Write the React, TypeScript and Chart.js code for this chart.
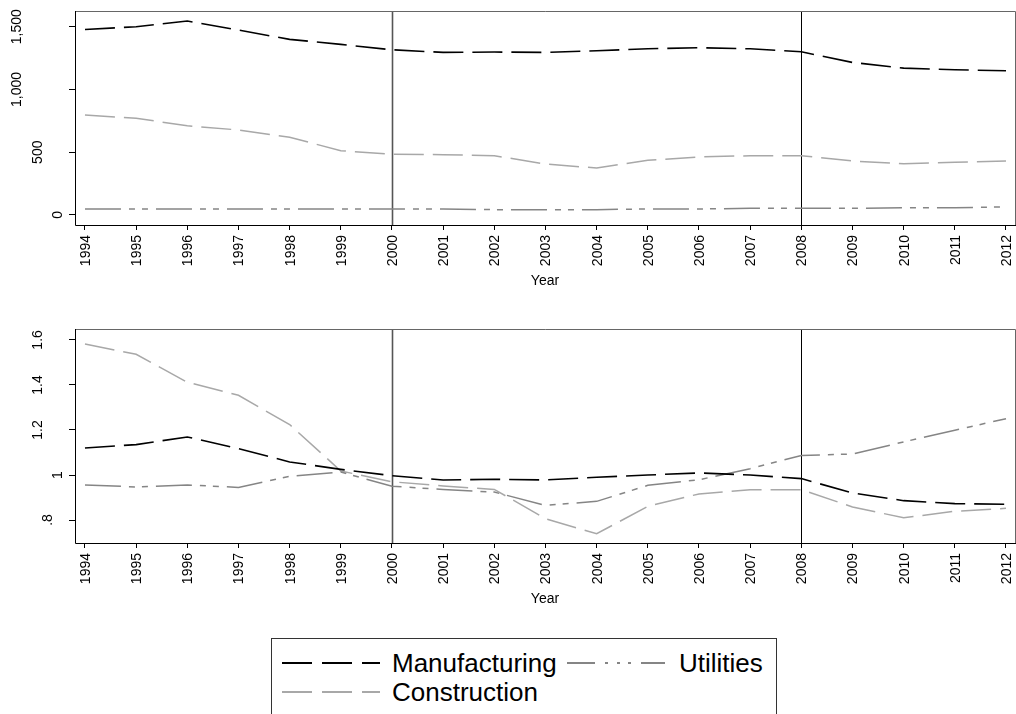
import React, { useEffect, useRef } from 'react';
import { Chart, registerables } from 'chart.js';

Chart.register(...registerables);

const FONT = '"Liberation Sans", Arial, Helvetica, sans-serif';

// ---------- data ----------
const YEARS = [1994, 1995, 1996, 1997, 1998, 1999, 2000, 2001, 2002, 2003, 2004, 2005, 2006, 2007, 2008, 2009, 2010, 2011, 2012];
const BREAK_YEARS = [2000, 2008];

// top panel: levels
const MFG_LEVEL = [1478, 1500, 1545, 1473, 1399, 1359, 1316, 1295, 1298, 1295, 1308, 1324, 1332, 1324, 1300, 1215, 1170, 1157, 1149];
const UTI_LEVEL = [48, 48, 48, 48, 48, 47, 48, 48, 42, 42, 42, 48, 48, 53, 53, 53, 58, 58, 64];
const CON_LEVEL = [796, 770, 711, 677, 619, 512, 484, 480, 472, 406, 374, 435, 462, 472, 472, 430, 408, 419, 430];
const TOP_Y_TICKS = [0, 500, 1000, 1500];
const TOP_Y_LABELS = ['0', '500', '1,000', '1,500'];

// bottom panel: relative values
const MFG_REL = [1.12, 1.135, 1.169, 1.117, 1.058, 1.025, 0.997, 0.978, 0.981, 0.978, 0.99, 1.0, 1.009, 1.0, 0.984, 0.92, 0.886, 0.873, 0.87];
const UTI_REL = [0.956, 0.947, 0.956, 0.945, 0.994, 1.013, 0.95, 0.936, 0.924, 0.865, 0.883, 0.954, 0.979, 1.028, 1.087, 1.093, 1.147, 1.199, 1.25];
const CON_REL = [1.582, 1.536, 1.412, 1.354, 1.224, 1.018, 0.97, 0.951, 0.936, 0.806, 0.739, 0.861, 0.916, 0.935, 0.935, 0.858, 0.81, 0.839, 0.852];
const BOT_Y_TICKS = [0.8, 1, 1.2, 1.4, 1.6];
const BOT_Y_LABELS = ['.8', '1', '1.2', '1.4', '1.6'];

const SERIES_NAMES = ['Manufacturing', 'Utilities', 'Construction'];
const X_TITLE = 'Year';

// ---------- styles ----------
const MFG_STYLE = { color: '#000000', dash: [30, 9], width: 1.6 };
const UTI_STYLE = { color: '#858585', dash: [36, 8, 6, 7, 6, 8], width: 1.5 };
const CON_STYLE = { color: '#a8a8a8', dash: [30, 9], width: 1.5 };

const axisTextPlugin = {
  id: 'axisText',
  beforeDatasetsDraw(chart: any) {
    const { ctx, chartArea } = chart;
    const xs = chart.scales.x;
    ctx.save();
    BREAK_YEARS.forEach((yr, i) => {
      const px = Math.round(xs.getPixelForValue(yr)) + 0.5;
      ctx.strokeStyle = i === 0 ? '#555555' : '#000000';
      ctx.lineWidth = i === 0 ? 1.6 : 1;
      ctx.beginPath();
      ctx.moveTo(px, chartArea.top);
      ctx.lineTo(px, chartArea.bottom);
      ctx.stroke();
    });
    ctx.restore();
  },
  afterDraw(chart: any, _args: any, opts: any) {
    const { ctx, chartArea } = chart;
    const xs = chart.scales.x;
    const ys = chart.scales.y;
    const { left, right, top, bottom } = chartArea;
    ctx.save();
    // frame
    ctx.lineWidth = 1;
    ctx.strokeStyle = '#666666';
    ctx.beginPath();
    ctx.moveTo(left, top - 0.5);
    ctx.lineTo(right + 0.5, top - 0.5);
    ctx.lineTo(right + 0.5, bottom);
    ctx.stroke();
    ctx.strokeStyle = '#000000';
    ctx.beginPath();
    ctx.moveTo(left + 0.5, top - 1);
    ctx.lineTo(left + 0.5, bottom + 0.5);
    ctx.lineTo(right + 1, bottom + 0.5);
    ctx.stroke();

    ctx.fillStyle = '#000000';
    ctx.font = `14px ${FONT}`;
    // x tick labels (rotated)
    YEARS.forEach((yr) => {
      const px = xs.getPixelForValue(yr);
      ctx.save();
      ctx.translate(px + 1, bottom + 10);
      ctx.rotate(-Math.PI / 2);
      ctx.textAlign = 'right';
      ctx.textBaseline = 'middle';
      ctx.fillText(String(yr), 0, 0);
      ctx.restore();
    });
    // y tick labels (rotated)
    const yTicks: number[] = opts.yTicks;
    const yLabels: string[] = opts.yLabels;
    yTicks.forEach((v, i) => {
      const py = ys.getPixelForValue(v);
      const lab = yLabels[i];
      const cx = 69 - 10.4 * lab.length;
      ctx.save();
      ctx.translate(cx, py);
      ctx.rotate(-Math.PI / 2);
      ctx.textAlign = 'center';
      ctx.textBaseline = 'middle';
      ctx.fillText(lab, 0, 0);
      ctx.restore();
    });
    // x title
    ctx.textAlign = 'center';
    ctx.textBaseline = 'middle';
    ctx.fillText(X_TITLE, (left + right) / 2, 281);
    ctx.restore();
  },
};

function makeDataset(label: string, values: number[], style: any) {
  return {
    label,
    data: values.map((v, i) => ({ x: YEARS[i], y: v })),
    borderColor: style.color,
    borderWidth: style.width,
    borderDash: style.dash,
    pointRadius: 0,
    fill: false,
    tension: 0,
  };
}

function makeConfig(mfg: number[], uti: number[], con: number[], yMin: number, yMax: number, yTicks: number[], yLabels: string[]) {
  return {
    type: 'line' as const,
    data: {
      datasets: [
        makeDataset(SERIES_NAMES[0], mfg, MFG_STYLE),
        makeDataset(SERIES_NAMES[1], uti, UTI_STYLE),
        makeDataset(SERIES_NAMES[2], con, CON_STYLE),
      ],
    },
    options: {
      animation: false,
      responsive: false,
      maintainAspectRatio: false,
      devicePixelRatio: 1,
      events: [],
      layout: { padding: { top: 12, right: 1, left: 0, bottom: 0 } },
      plugins: {
        legend: { display: false },
        tooltip: { enabled: false },
        axisText: { yTicks, yLabels },
      },
      scales: {
        x: {
          type: 'linear',
          min: 1993.805,
          max: 2012.176,
          afterBuildTicks: (s: any) => { s.ticks = YEARS.map((v) => ({ value: v })); },
          afterFit: (s: any) => { s.height = 75; s.paddingLeft = 0; s.paddingRight = 0; },
          ticks: { display: false },
          grid: { display: true, drawOnChartArea: false, drawTicks: true, tickLength: 5, color: '#000000', lineWidth: 1 },
          border: { display: false },
        },
        y: {
          type: 'linear',
          min: yMin,
          max: yMax,
          afterBuildTicks: (s: any) => { s.ticks = yTicks.map((v) => ({ value: v })); },
          afterFit: (s: any) => { s.width = 75; s.paddingTop = 0; s.paddingBottom = 0; },
          ticks: { display: false },
          grid: { display: true, drawOnChartArea: false, drawTicks: true, tickLength: 6, color: '#000000', lineWidth: 1 },
          border: { display: false },
        },
      },
    },
    plugins: [axisTextPlugin],
  };
}

function LegendSample({ dash, color, width }: { dash: string; color: string; width: number }) {
  return (
    <svg width={98} height={4} style={{ display: 'block' }}>
      <line x1={0} y1={2} x2={98} y2={2} stroke={color} strokeWidth={width} strokeDasharray={dash} />
    </svg>
  );
}

export default function App() {
  const topRef = useRef<HTMLCanvasElement>(null);
  const botRef = useRef<HTMLCanvasElement>(null);

  useEffect(() => {
    const c1 = new Chart(topRef.current as HTMLCanvasElement, makeConfig(MFG_LEVEL, UTI_LEVEL, CON_LEVEL, -80, 1617, TOP_Y_TICKS, TOP_Y_LABELS) as any);
    const c2 = new Chart(botRef.current as HTMLCanvasElement, makeConfig(MFG_REL, UTI_REL, CON_REL, 0.698, 1.644, BOT_Y_TICKS, BOT_Y_LABELS) as any);
    return () => { c1.destroy(); c2.destroy(); };
  }, []);

  const textStyle: React.CSSProperties = {
    position: 'absolute', fontFamily: FONT, fontSize: 26, lineHeight: '26px', color: '#000', whiteSpace: 'nowrap',
  };

  return (
    <div style={{ position: 'absolute', left: 0, top: 0, width: 1016, height: 714, overflow: 'hidden', background: '#fff' }}>
      <canvas ref={topRef} width={1016} height={300} style={{ position: 'absolute', left: 0, top: 0, width: 1016, height: 300 }} />
      <canvas ref={botRef} width={1016} height={300} style={{ position: 'absolute', left: 0, top: 318, width: 1016, height: 300 }} />
      <div style={{ position: 'absolute', left: 271, top: 638, width: 506, height: 120, border: '1px solid #333', boxSizing: 'border-box', background: '#fff' }}>
        <div style={{ position: 'absolute', left: 10, top: 22 }}>
          <LegendSample dash="30 10" color="#000" width={2} />
        </div>
        <div style={{ ...textStyle, left: 120, top: 11 }}>{SERIES_NAMES[0]}</div>
        <div style={{ position: 'absolute', left: 295, top: 22 }}>
          <LegendSample dash="28 10 3 9 3 8 3 10 30" color="#858585" width={2} />
        </div>
        <div style={{ ...textStyle, left: 407, top: 11 }}>{SERIES_NAMES[1]}</div>
        <div style={{ position: 'absolute', left: 10, top: 51 }}>
          <LegendSample dash="30 10" color="#a8a8a8" width={2} />
        </div>
        <div style={{ ...textStyle, left: 120, top: 40 }}>{SERIES_NAMES[2]}</div>
      </div>
    </div>
  );
}
